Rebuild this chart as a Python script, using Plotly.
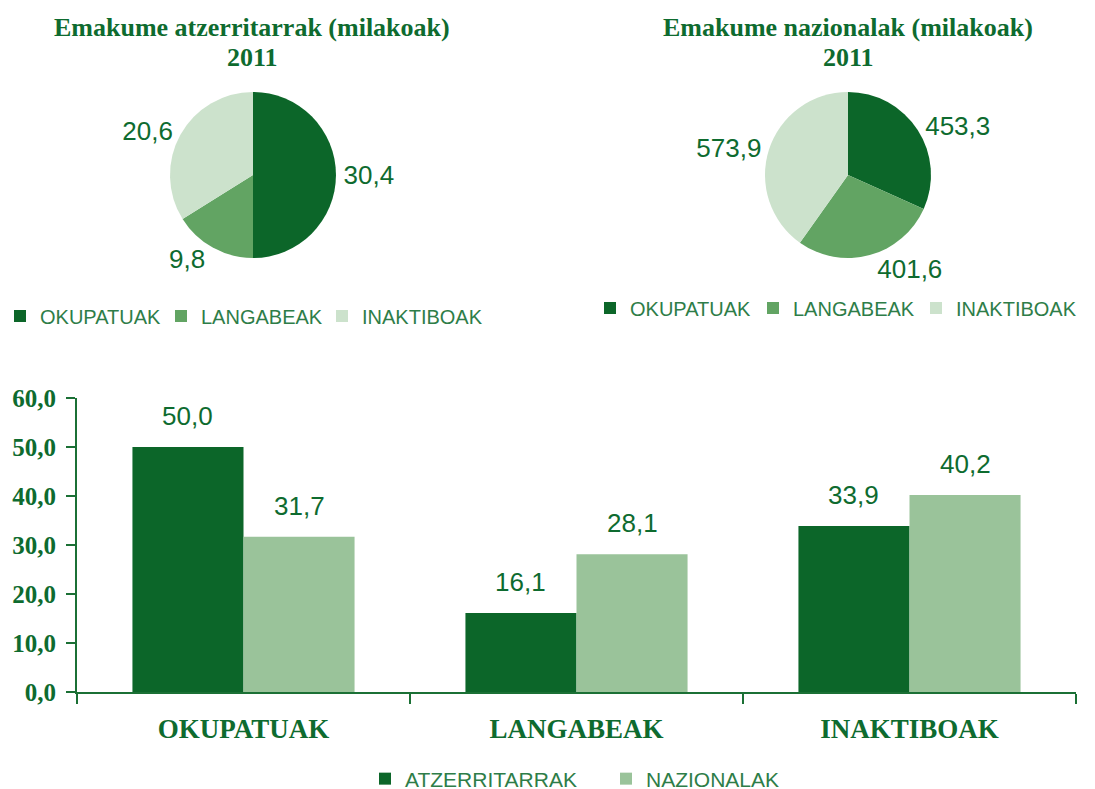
import plotly.graph_objects as go

# ---- data ----
pie_labels = ["OKUPATUAK", "LANGABEAK", "INAKTIBOAK"]
atzerritarrak_values = [30.4, 9.8, 20.6]
nazionalak_values = [453.3, 401.6, 573.9]

bar_categories = ["OKUPATUAK", "LANGABEAK", "INAKTIBOAK"]
bar_atzerritarrak = [50.0, 16.1, 33.9]
bar_nazionalak = [31.7, 28.1, 40.2]
y_ticks = [0, 10, 20, 30, 40, 50, 60]
y_tick_labels = ["0,0", "10,0", "20,0", "30,0", "40,0", "50,0", "60,0"]

title_left = ["Emakume atzerritarrak (milakoak)", "2011"]
title_right = ["Emakume nazionalak (milakoak)", "2011"]

# ---- styles ----
W, H = 1095, 789
OFF = 8  # page body margin
GREEN_TXT = "#0e6b2f"
AXIS_COL = "#1b7035"
pie_colors = ["#0c6629", "#62a463", "#cce2cc"]
bar_colors = ["#0c6629", "#9ac39a"]
SANS = "Liberation Sans, Arial, sans-serif"
SERIF = "Liberation Serif, Times New Roman, serif"

X0, X1 = 77, 1076      # bar plot area (page px)
Y0, Y1 = 692, 398
BARGAP = 0.333


def px_x(x):
    return (x - OFF) / W


def px_y(y):
    return 1 - (y - OFF) / H


fig = go.Figure()

pie_text_font = dict(family=SANS, size=26, color=GREEN_TXT)

fig.add_trace(go.Pie(
    labels=pie_labels, values=atzerritarrak_values,
    marker=dict(colors=pie_colors),
    sort=False, direction="clockwise", rotation=0,
    textinfo="value", texttemplate="%{value:.1f}", textposition="outside",
    outsidetextfont=pie_text_font,
    domain=dict(x=[px_x(118), px_x(388)], y=[px_y(258), px_y(92)]),
    legend="legend", legendgroup="pie1", showlegend=True, hoverinfo="label+value",
))

fig.add_trace(go.Pie(
    labels=pie_labels, values=nazionalak_values,
    marker=dict(colors=pie_colors),
    sort=False, direction="clockwise", rotation=0,
    textinfo="value", texttemplate="%{value:.1f}", textposition="outside",
    outsidetextfont=pie_text_font,
    domain=dict(x=[px_x(713), px_x(983)], y=[px_y(258), px_y(92)]),
    legend="legend2", legendgroup="pie2", showlegend=True, hoverinfo="label+value",
))

series = [("ATZERRITARRAK", bar_atzerritarrak, bar_colors[0]),
          ("NAZIONALAK", bar_nazionalak, bar_colors[1])]
for name, vals, col in series:
    fig.add_trace(go.Bar(
        name=name, x=bar_categories, y=vals,
        marker=dict(color=col, line=dict(width=0)),
        legend="legend3", hovertemplate="%{x}: %{y:.1f}<extra>" + name + "</extra>",
    ))

# value labels above bars (placed from the data through the axes)
cat_w = (X1 - X0) / len(bar_categories)
bar_w = cat_w * (1 - BARGAP) / len(series)
annotations = []
for si, (name, vals, col) in enumerate(series):
    shift = (si - (len(series) - 1) / 2) * bar_w
    for cat, v in zip(bar_categories, vals):
        annotations.append(dict(
            x=cat, y=v, xref="x", yref="y", xshift=shift, yshift=31,
            text=f"{v:.1f}".replace(".", ","), showarrow=False,
            xanchor="center", yanchor="middle",
            font=dict(family=SANS, size=26, color=GREEN_TXT),
        ))

title_font = dict(family=SERIF, size=26, color=GREEN_TXT, weight="bold")
for cx, lines in [(252, title_left), (848, title_right)]:
    for ty, line in zip([27, 57], lines):
        annotations.append(dict(
            text=line, x=px_x(cx), y=px_y(ty), xref="paper", yref="paper",
            xanchor="center", yanchor="middle", showarrow=False, font=title_font,
        ))

legend_common = dict(orientation="h", xanchor="left", yanchor="middle",
                     itemwidth=30, entrywidthmode="pixels",
                     traceorder="normal", bgcolor="rgba(0,0,0,0)")
LEG_COL = "#2e7d48"

fig.update_layout(
    width=W, height=H,
    margin=dict(l=0, r=0, t=0, b=0, autoexpand=False),
    paper_bgcolor="white", plot_bgcolor="white",
    separators=",.",
    barmode="group", bargap=BARGAP, bargroupgap=0,
    xaxis=dict(
        domain=[px_x(X0), px_x(X1)],
        type="category", automargin=False,
        showline=True, linecolor=AXIS_COL, linewidth=2,
        ticks="outside", tickson="boundaries", ticklen=10, tickcolor=AXIS_COL, tickwidth=2,
        tickfont=dict(family=SERIF, size=27, color=GREEN_TXT, weight="bold"),
        ticklabelstandoff=12,
        showgrid=False, zeroline=False,
        anchor="y",
    ),
    yaxis=dict(
        domain=[px_y(Y0), px_y(Y1)],
        range=[0, 60], automargin=False,
        tickvals=y_ticks, ticktext=y_tick_labels,
        showline=True, linecolor=AXIS_COL, linewidth=2,
        ticks="outside", ticklen=9, tickcolor=AXIS_COL, tickwidth=2,
        tickfont=dict(family=SERIF, size=25, color=GREEN_TXT, weight="bold"),
        ticklabelstandoff=5,
        showgrid=False, zeroline=False,
    ),
    legend=dict(x=px_x(0), y=px_y(316), entrywidth=116,
                font=dict(family=SANS, size=20, color=LEG_COL), **legend_common),
    legend2=dict(x=px_x(590), y=px_y(308), entrywidth=118,
                 font=dict(family=SANS, size=20, color=LEG_COL), **legend_common),
    legend3=dict(x=px_x(365), y=px_y(779), entrywidth=196,
                 font=dict(family=SANS, size=21, color=LEG_COL), **legend_common),
    annotations=annotations,
)

fig.write_html("out.html")
